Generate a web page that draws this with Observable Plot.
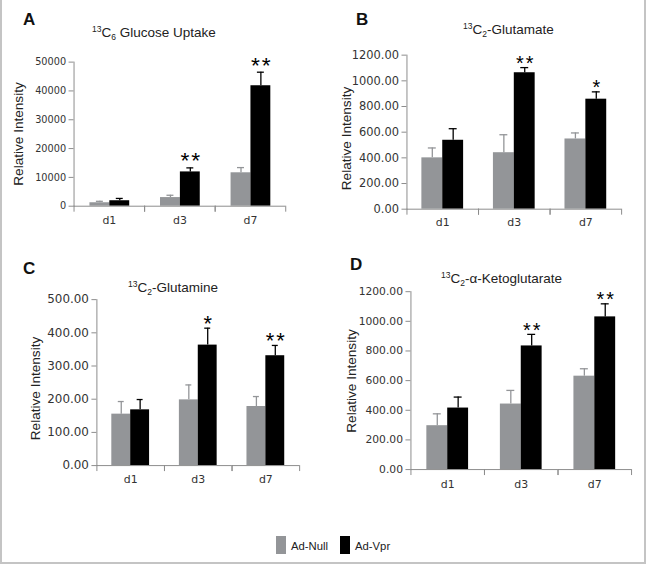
<!DOCTYPE html>
<html><head><meta charset="utf-8">
<script src="https://cdn.jsdelivr.net/npm/d3@7"></script>
<script src="https://cdn.jsdelivr.net/npm/@observablehq/plot@0.6"></script>
<style>
body{margin:0;background:#fff;}
#fig{position:relative;width:646px;height:564px;background:#fff;overflow:hidden;box-sizing:border-box;border-left:2px solid #c4c4c4;border-right:2px solid #c4c4c4;border-bottom:2px solid #c4c4c4;}
#fig svg{position:absolute;left:-2px;top:0;}
#fig svg g[aria-label="text"] text{letter-spacing:2px;}
</style></head><body><div id="fig"></div>
<script>
// ---- data ----
const days = ["d1", "d3", "d7"];
const groups = ["Ad-Null", "Ad-Vpr"];

const glucoseNull = [1200, 3000, 11600];
const glucoseNullErr = [500, 800, 1800];
const glucoseVpr = [1900, 11900, 41800];
const glucoseVprErr = [800, 1400, 4700];
const glucoseSig = ["", "**", "**"];
const glucoseTicks = [0, 10000, 20000, 30000, 40000, 50000];

const glutamateNull = [400, 440, 547];
const glutamateNullErr = [77, 140, 47];
const glutamateVpr = [537, 1063, 857];
const glutamateVprErr = [90, 40, 57];
const glutamateSig = ["", "**", "*"];
const glutamateTicks = [0, 200, 400, 600, 800, 1000, 1200];

const glutamineNull = [155, 198, 178];
const glutamineNullErr = [38, 45, 30];
const glutamineVpr = [168, 363, 331];
const glutamineVprErr = [31, 51, 31];
const glutamineSig = ["", "*", "**"];
const glutamineTicks = [0, 100, 200, 300, 400, 500];

const akgNull = [296, 442, 630];
const akgNullErr = [80, 92, 50];
const akgVpr = [415, 834, 1030];
const akgVprErr = [74, 78, 88];
const akgSig = ["", "**", "**"];
const akgTicks = [0, 200, 400, 600, 800, 1000, 1200];

const panelLetters = ["A", "B", "C", "D"];
const yTitle = "Relative Intensity";
// title pieces: [superscript, main, subscript, rest]
const titles = [
  ["13", "C", "6", " Glucose Uptake"],
  ["13", "C", "2", "-Glutamate"],
  ["13", "C", "2", "-Glutamine"],
  ["13", "C", "2", "-\u03B1-Ketoglutarate"]
];

// ---- layout ----
const W = 646, H = 564;
const axisColor = "#8c8c8c";
const colors = ["#939598", "#000000"];
const fig = document.getElementById("fig");

function rows(nv, ne, vv, ve, sig) {
  return days.flatMap((day, i) => [
    {day, group: groups[0], value: nv[i], err: ne[i], sig: ""},
    {day, group: groups[1], value: vv[i], err: ve[i], sig: sig[i]}
  ]);
}

function panel(data, ticks, fmt, box, o) {
  const top = d => d.value + d.err;
  const fh = box.b - box.t;
  return Plot.plot({
    width: W, height: H,
    marginLeft: box.l, marginRight: W - box.r, marginTop: box.t, marginBottom: H - box.b,
    style: {background: "transparent", overflow: "visible", fontFamily: "'Liberation Sans', Arial, sans-serif", color: "#333"},
    fx: {domain: days, padding: 0, axis: null, label: null},
    x: {domain: groups, paddingInner: 0, paddingOuter: 0.71, axis: null},
    y: {domain: [0, ticks[ticks.length - 1]], axis: null, label: null},
    color: {domain: groups, range: colors},
    marks: [
      Plot.barY(data, {fx: "day", x: "group", y: "value", fill: "group"}),
      Plot.ruleX(data, {fx: "day", x: "group", y1: "value", y2: top, stroke: "group", strokeWidth: 1.3}),
      Plot.tickY(data, {fx: "day", x: "group", y: top, stroke: "group", strokeWidth: 1.3, insetLeft: 6.5, insetRight: 6.5}),
      Plot.text(data.filter(d => d.sig), {fx: "day", x: "group", y: top, text: "sig", fontSize: o.star, dy: o.starDy, dx: 1, fill: "#000"}),
      Plot.ruleY([0], {stroke: axisColor}),
      Plot.frame({anchor: "left", facetAnchor: "left", stroke: axisColor}),
      Plot.frame({anchor: "left", insetTop: fh, insetBottom: -5, stroke: axisColor}),
      Plot.frame({anchor: "right", insetTop: fh, insetBottom: -5, stroke: axisColor}),
      Plot.axisY({ticks, tickFormat: fmt, tickSize: 5, tickPadding: 3, stroke: axisColor, fill: "#333", label: null, fontSize: o.tick, fontFamily: "'DejaVu Sans', Verdana, sans-serif"}),
      Plot.axisFx({anchor: "bottom", tickSize: 0, tickPadding: o.xpad, label: null, fill: "#333", fontSize: 11, fontFamily: "'DejaVu Sans', Verdana, sans-serif"})
    ]
  });
}

const f0 = d => d3.format("d")(d);
const f2 = d => d.toFixed(2);

fig.append(panel(rows(glucoseNull, glucoseNullErr, glucoseVpr, glucoseVprErr, glucoseSig), glucoseTicks, f0,
  {l: 73, r: 288, t: 62, b: 207}, {tick: 9.8, star: 23, starDy: -7, xpad: 10}));
fig.append(panel(rows(glutamateNull, glutamateNullErr, glutamateVpr, glutamateVprErr, glutamateSig), glutamateTicks, f2,
  {l: 409, r: 625, t: 55, b: 210}, {tick: 11.5, star: 20, starDy: -4.5, xpad: 9}));
fig.append(panel(rows(glutamineNull, glutamineNullErr, glutamineVpr, glutamineVprErr, glutamineSig), glutamineTicks, f2,
  {l: 96, r: 302, t: 301, b: 468}, {tick: 12, star: 22, starDy: -4.5, xpad: 10}));
fig.append(panel(rows(akgNull, akgNullErr, akgVpr, akgVprErr, akgSig), akgTicks, f2,
  {l: 413, r: 635, t: 293, b: 472}, {tick: 10.8, star: 20, starDy: -4, xpad: 11}));

// ---- annotations: letters, titles, axis titles, legend ----
const ann = d3.create("svg").attr("width", W).attr("height", H)
  .style("font-family", "'Liberation Sans', Arial, sans-serif").style("overflow", "visible");
const letterPos = [[23, 25], [356, 25], [23, 274], [350, 270]];
panelLetters.forEach((t, i) => ann.append("text").attr("x", letterPos[i][0]).attr("y", letterPos[i][1])
  .attr("font-size", 17).attr("font-weight", "bold").attr("fill", "#111").text(t));

const titlePos = [[92, 36.5], [463, 33.5], [128, 292], [441, 283]];
titles.forEach((p, i) => {
  const t = ann.append("text").attr("x", titlePos[i][0]).attr("y", titlePos[i][1]).attr("font-size", 13.5).attr("fill", "#222");
  t.append("tspan").attr("font-size", 8.5).attr("dy", -5).text(p[0]);
  t.append("tspan").attr("dy", 5).text(p[1]);
  t.append("tspan").attr("font-size", 8.5).attr("dy", 3).text(p[2]);
  t.append("tspan").attr("dy", -3).text(p[3]);
});

const yTitlePos = [[22.5, 134], [351, 138.5], [39.5, 388.5], [356, 381]];
yTitlePos.forEach(([x, y]) => ann.append("text").attr("transform", `translate(${x},${y}) rotate(-90)`)
  .attr("text-anchor", "middle").attr("font-size", 13.6).attr("fill", "#222").text(yTitle));

const legendPos = [[276, 291], [340, 355]];
groups.forEach((g, i) => {
  ann.append("rect").attr("x", legendPos[i][0]).attr("y", 536).attr("width", 10).attr("height", 18).attr("fill", colors[i]);
  ann.append("text").attr("x", legendPos[i][1]).attr("y", 549.5).attr("font-size", 11.3).attr("fill", "#222").text(g);
});
fig.append(ann.node());
</script>
</body></html>
